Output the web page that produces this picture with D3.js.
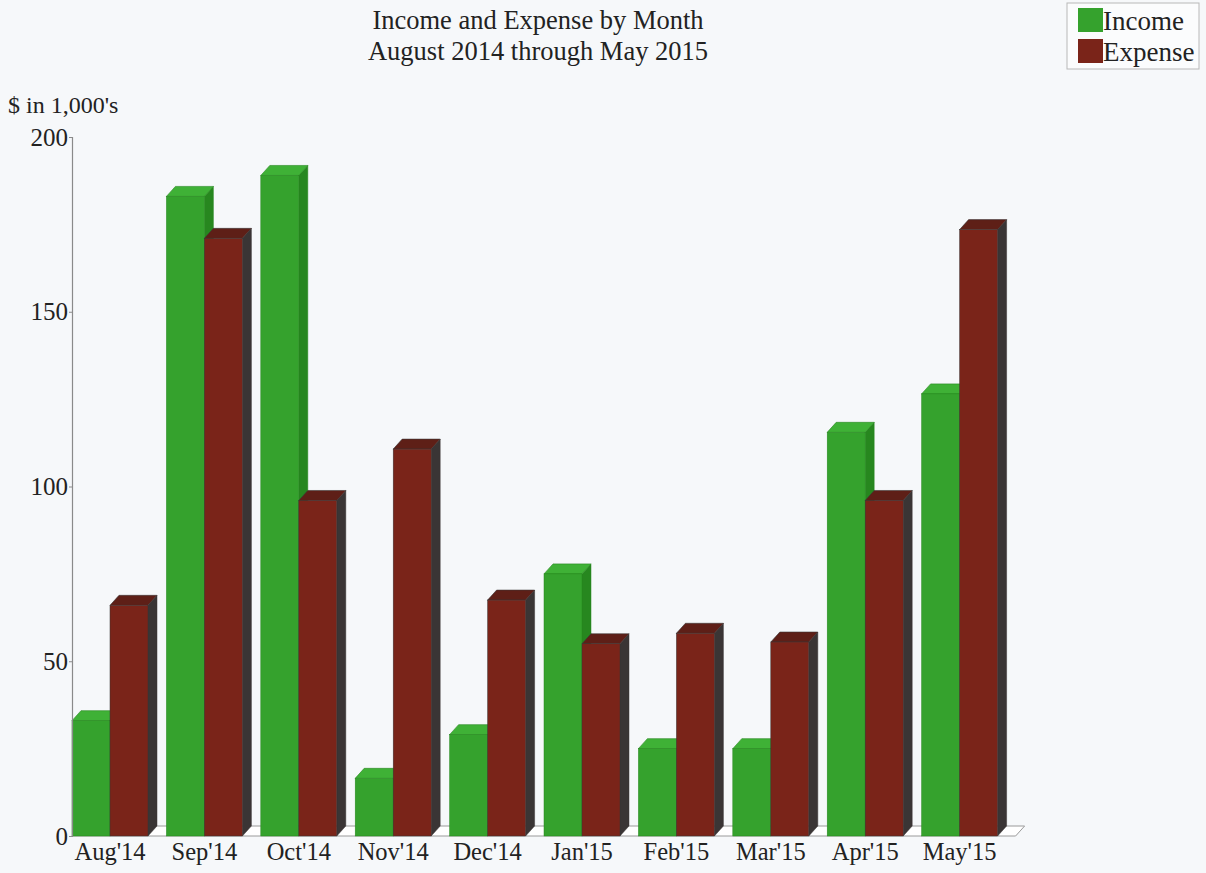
<!DOCTYPE html>
<html><head><meta charset="utf-8">
<script src="https://cdn.jsdelivr.net/npm/d3@7"></script>
<style>
html,body{margin:0;padding:0;background:#f6f8fa;}
svg{display:block;font-family:"Liberation Serif","Times New Roman",serif;}
</style></head>
<body><svg id="c" width="1206" height="873"></svg>
<script>
const months = ["Aug'14","Sep'14","Oct'14","Nov'14","Dec'14","Jan'15","Feb'15","Mar'15","Apr'15","May'15"];
const income = [33, 183, 189, 16.5, 29, 75, 25, 25, 115.5, 126.5];
const expense = [66, 171, 96, 110.7, 67.5, 55, 58, 55.5, 96, 173.5];
const yTicks = [0, 50, 100, 150, 200];
const seriesNames = ["Income","Expense"];

const svg = d3.select("#c");
const W = 1206, H = 873;
svg.append("rect").attr("width",W).attr("height",H).attr("fill","#f6f8fa");

const x0 = 72, y0 = 836, yTop = 137;
const dx = 9, dy = -10;
const y = d3.scaleLinear().domain([0,200]).range([y0,yTop]);
const xg = d3.scaleBand().domain(months).range([x0, 997.6]).paddingInner(0.195).paddingOuter(0);
const xs = d3.scaleBand().domain(seriesNames).range([0, xg.bandwidth()]);

const colors = {
  Income:  {front:"#35a22d", top:"#3fb136", side:"#27871f"},
  Expense: {front:"#7a2419", top:"#5e1f17", side:"#3a3535"}
};

// floor
const fx1 = xg.range()[1] + 18;
svg.append("path")
  .attr("d", `M${x0},${y0} L${fx1},${y0} L${fx1+dx},${y0+dy} L${x0+dx},${y0+dy} Z`)
  .attr("fill","#ffffff").attr("stroke","#9a9a9a").attr("stroke-width",1);

// bars
const data = months.map((m,i)=>({m, vals:[{s:"Income",v:income[i]},{s:"Expense",v:expense[i]}]}));
const g = svg.append("g");
data.forEach(d=>{
  d.vals.forEach(b=>{
    const xl = xg(d.m) + xs(b.s), xr = xl + xs.bandwidth();
    const yt = y(b.v), yb = y(0);
    const c = colors[b.s];
    const bg = g.append("g");
    bg.append("path").attr("d",`M${xr},${yb} L${xr+dx},${yb+dy} L${xr+dx},${yt+dy} L${xr},${yt} Z`)
      .attr("fill",c.side).attr("stroke",c.side).attr("stroke-width",0.5);
    bg.append("path").attr("d",`M${xl},${yt} L${xl+dx},${yt+dy} L${xr+dx},${yt+dy} L${xr},${yt} Z`)
      .attr("fill",c.top).attr("stroke",c.side).attr("stroke-width",0.6);
    bg.append("rect").attr("x",xl).attr("y",yt).attr("width",xr-xl).attr("height",yb-yt)
      .attr("fill",c.front).attr("stroke",c.side).attr("stroke-width",0.5);
  });
});

// y axis
const yAxis = d3.axisLeft(y).tickValues(yTicks).tickSize(3).tickPadding(1).tickFormat(d3.format("d"));
const ya = svg.append("g").attr("transform",`translate(${x0},0)`).call(yAxis);
ya.select(".domain").attr("stroke","#8a8a8a").attr("stroke-width",1.2);
ya.selectAll(".tick line").attr("stroke","#8a8a8a");
ya.selectAll("text").attr("font-size",25).attr("fill","#222").attr("font-family","Liberation Serif, serif");

// x axis labels
const xAxis = d3.axisBottom(xg).tickSize(0).tickPadding(7);
const xa = svg.append("g").attr("transform",`translate(0,${y0})`).call(xAxis);
xa.select(".domain").remove();
xa.selectAll("text").attr("font-size",24.5).attr("fill","#222").attr("font-family","Liberation Serif, serif");

// y axis title
svg.append("text").attr("x",8).attr("y",113).attr("font-size",24).attr("fill","#222").text("$ in 1,000's");

// title
svg.append("text").attr("x",538).attr("y",29).attr("text-anchor","middle").attr("font-size",26.5).attr("fill","#222").text("Income and Expense by Month");
svg.append("text").attr("x",538).attr("y",60).attr("text-anchor","middle").attr("font-size",26.5).attr("fill","#222").text("August 2014 through May 2015");

// legend
const lg = svg.append("g");
lg.append("rect").attr("x",1067).attr("y",3).attr("width",132).attr("height",66).attr("fill","#fbfcfd").attr("stroke","#b8b8b8");
seriesNames.forEach((s,i)=>{
  lg.append("rect").attr("x",1078).attr("y",8+i*31).attr("width",25).attr("height",24).attr("fill",colors[s].front);
  lg.append("text").attr("x",1103).attr("y",30+i*31).attr("font-size",27).attr("fill","#222").text(s);
});
</script></body></html>
